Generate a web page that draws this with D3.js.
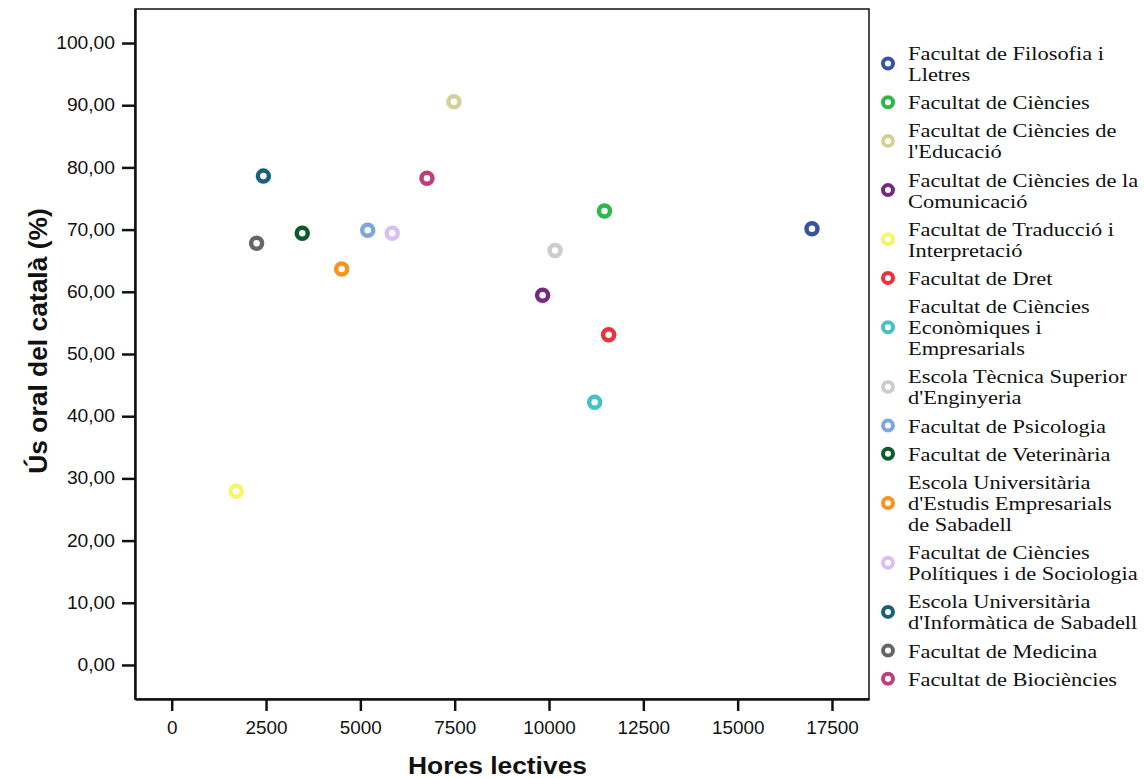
<!DOCTYPE html>
<html>
<head>
<meta charset="utf-8">
<script src="https://cdn.jsdelivr.net/npm/d3@7"></script>
<style>
body { margin: 0; background: #fff; }
svg text { fill: #111; }
</style>
</head>
<body>
<svg id="chart" width="1144" height="778"></svg>
<script>
// faculties, in legend order
var names = [
  ["Facultat de Filosofia i", "Lletres"],
  ["Facultat de Ciències"],
  ["Facultat de Ciències de", "l'Educació"],
  ["Facultat de Ciències de la", "Comunicació"],
  ["Facultat de Traducció i", "Interpretació"],
  ["Facultat de Dret"],
  ["Facultat de Ciències", "Econòmiques i", "Empresarials"],
  ["Escola Tècnica Superior", "d'Enginyeria"],
  ["Facultat de Psicologia"],
  ["Facultat de Veterinària"],
  ["Escola Universitària", "d'Estudis Empresarials", "de Sabadell"],
  ["Facultat de Ciències", "Polítiques i de Sociologia"],
  ["Escola Universitària", "d'Informàtica de Sabadell"],
  ["Facultat de Medicina"],
  ["Facultat de Biociències"]
];
var hores = [16970, 11470, 7480, 9830, 1710, 11580, 11210, 10160, 5195, 3460, 4505, 5845, 2430, 2250, 6765];
var usOral = [70.15, 73.0, 90.55, 59.45, 27.95, 53.1, 42.25, 66.65, 69.9, 69.4, 63.65, 69.4, 78.6, 67.8, 78.25];
var colors = ["#3953a4", "#2db84b", "#d5d09a", "#762a7f", "#f5f56a", "#ee3038", "#45c2c7", "#cccccc",
              "#7ba7dc", "#0e5a2d", "#f7941d", "#dcbdf0", "#1b607a", "#666666", "#be3f7e"];
var xTicks = [0, 2500, 5000, 7500, 10000, 12500, 15000, 17500];
var yTicks = [0, 10, 20, 30, 40, 50, 60, 70, 80, 90, 100];

var svg = d3.select("#chart");
var pLeft = 135, pTop = 9, pRight = 869, pBottom = 699;
var sx = 1.1; // the original text is a bit wider than our fonts

var x = d3.scaleLinear().domain([-973, 18481]).range([pLeft, pRight]);
var y = d3.scaleLinear().domain([-5.47, 105.47]).range([pBottom, pTop]);

// widen text horizontally around its own x
function stretch(sel, k) {
  sel.each(function() {
    var t = d3.select(this);
    var tx = +(t.attr("x") || 0);
    t.attr("x", tx / k).attr("transform", "scale(" + k + ",1)");
  });
}

// frame
svg.append("rect")
  .attr("x", pLeft).attr("y", pTop)
  .attr("width", pRight - pLeft).attr("height", pBottom - pTop)
  .attr("fill", "none").attr("stroke", "#111").attr("stroke-width", 1.5);

var fmt = function(d) { return d3.format(".2f")(d).replace(".", ","); };

var yAxis = svg.append("g")
  .attr("transform", "translate(" + pLeft + ",0)")
  .call(d3.axisLeft(y).tickValues(yTicks).tickSize(13).tickSizeOuter(0).tickPadding(7).tickFormat(fmt));
yAxis.select(".domain").attr("stroke", "#111").attr("stroke-width", 2.5);
yAxis.selectAll(".tick line").attr("stroke", "#111").attr("stroke-width", 2.5);
yAxis.selectAll("text").attr("font-family", "Liberation Sans, Arial, sans-serif").attr("font-size", 17.5).attr("fill", "#111");
stretch(yAxis.selectAll(".tick text"), sx);

var xAxis = svg.append("g")
  .attr("transform", "translate(0," + pBottom + ")")
  .call(d3.axisBottom(x).tickValues(xTicks).tickSize(12).tickSizeOuter(0).tickPadding(11).tickFormat(d3.format("d")));
xAxis.select(".domain").attr("stroke", "#111").attr("stroke-width", 2.5);
xAxis.selectAll(".tick line").attr("stroke", "#111").attr("stroke-width", 2.5);
xAxis.selectAll("text").attr("font-family", "Liberation Sans, Arial, sans-serif").attr("font-size", 17.5).attr("fill", "#111");
stretch(xAxis.selectAll(".tick text"), 1.08);

// axis titles
var xt = svg.append("text")
  .attr("x", 497.5).attr("y", 774)
  .attr("text-anchor", "middle")
  .attr("font-family", "Liberation Sans, Arial, sans-serif")
  .attr("font-weight", "bold").attr("font-size", 24)
  .text("Hores lectives");
stretch(xt, 1.1);

svg.append("text")
  .attr("transform", "translate(47,341) rotate(-90)")
  .attr("text-anchor", "middle")
  .attr("font-family", "Liberation Sans, Arial, sans-serif")
  .attr("font-weight", "bold").attr("font-size", 26.4)
  .text("Ús oral del català (%)");

// points
var idx = d3.range(hores.length);
svg.append("g").selectAll("circle")
  .data(idx)
  .enter()
  .append("circle")
    .attr("cx", function(i) { return x(hores[i]); })
    .attr("cy", function(i) { return y(usOral[i]); })
    .attr("r", 5.5)
    .attr("fill", "#fff")
    .attr("stroke", function(i) { return colors[i]; })
    .attr("stroke-width", 4.5);

// legend
var lineH = 21, gap = 7.2;
var legend = svg.append("g");
var ly = 44;
idx.forEach(function(i) {
  var lines = names[i];
  var h = lines.length * lineH;
  var cy = ly + h / 2 - 1.5;
  legend.append("circle")
    .attr("cx", 888).attr("cy", cy)
    .attr("r", 5).attr("fill", "#fff")
    .attr("stroke", colors[i]).attr("stroke-width", 4);
  var t = legend.append("text")
    .attr("transform", "translate(908,0) scale(1.15,1)")
    .attr("font-family", "Liberation Serif, Times New Roman, serif")
    .attr("font-size", 19.5);
  lines.forEach(function(s, k) {
    t.append("tspan").attr("x", 0).attr("y", ly + lineH * k + 16).text(s);
  });
  ly += h + gap;
});
</script>
</body>
</html>
